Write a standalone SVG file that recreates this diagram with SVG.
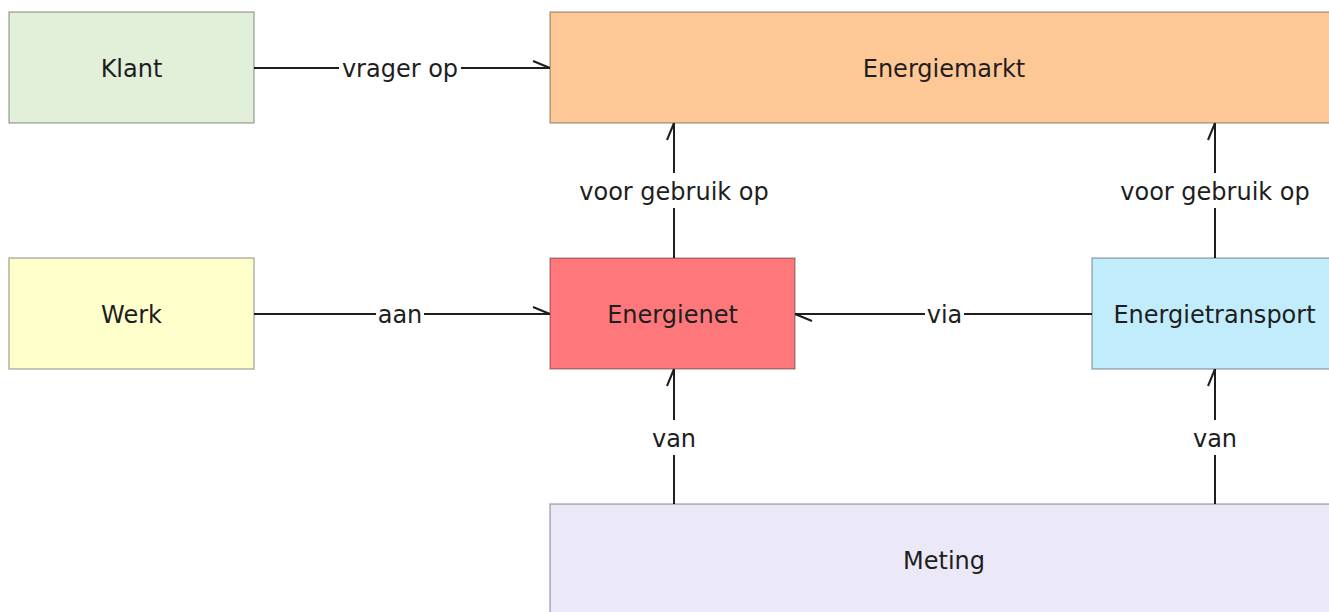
<svg xmlns="http://www.w3.org/2000/svg" width="1329" height="612" viewBox="0 0 1329 612">
<style>
.box{stroke:#000;stroke-opacity:0.3;stroke-width:1.5}
.nt{font-family:"DejaVu Sans",sans-serif;font-size:24px;fill:#1e1e1e;text-anchor:middle}
.lt{font-family:"DejaVu Sans",sans-serif;font-size:24px;fill:#1e1e1e;text-anchor:middle}
.edge{stroke:#1e1e1e;stroke-width:2;fill:none;marker-end:url(#half)}
.lbg{fill:#fff}
</style>
<defs>
<marker id="half" markerUnits="userSpaceOnUse" orient="auto" overflow="visible" markerWidth="20" markerHeight="20" refX="0" refY="0">
<path d="M-17,-7 L0,0" stroke="#1e1e1e" stroke-width="2" fill="none"/>
</marker>
</defs>
<rect width="1329" height="612" fill="#fff"/>
<g id="connectors">
<line class="edge" x1="254" y1="68" x2="550" y2="68"/>
<line class="edge" x1="674" y1="258" x2="674" y2="123"/>
<line class="edge" x1="1215" y1="258" x2="1215" y2="123"/>
<line class="edge" x1="254" y1="314" x2="550" y2="314"/>
<line class="edge" x1="1092" y1="314" x2="795" y2="314"/>
<line class="edge" x1="674" y1="504" x2="674" y2="369"/>
<line class="edge" x1="1215" y1="504" x2="1215" y2="369"/>
<rect class="lbg" x="339" y="52" width="122" height="32"/>
<text class="lt" x="400" y="77">vrager op</text>
<rect class="lbg" x="574" y="173" width="200" height="35"/>
<text class="lt" x="674" y="200">voor gebruik op</text>
<rect class="lbg" x="1115" y="173" width="200" height="35"/>
<text class="lt" x="1215" y="200">voor gebruik op</text>
<rect class="lbg" x="376" y="298" width="48" height="32"/>
<text class="lt" x="400" y="323">aan</text>
<rect class="lbg" x="925" y="298" width="39" height="32"/>
<text class="lt" x="944.5" y="323">via</text>
<rect class="lbg" x="648" y="420" width="52" height="35"/>
<text class="lt" x="674" y="447">van</text>
<rect class="lbg" x="1189" y="420" width="52" height="35"/>
<text class="lt" x="1215" y="447">van</text>
</g>
<g id="klant"><rect class="box" x="9" y="12" width="245" height="111" fill="#e2efd9"/><text class="nt" x="131.5" y="77">Klant</text></g>
<g id="energiemarkt"><rect class="box" x="550" y="12" width="788" height="111" fill="#fec896"/><text class="nt" x="944" y="77">Energiemarkt</text></g>
<g id="werk"><rect class="box" x="9" y="258" width="245" height="111" fill="#ffffcc"/><text class="nt" x="131.5" y="323">Werk</text></g>
<g id="energienet"><rect class="box" x="550" y="258" width="245" height="111" fill="#fe787b"/><text class="nt" x="672.5" y="323">Energienet</text></g>
<g id="energietransport"><rect class="box" x="1092" y="258" width="245" height="111" fill="#c0ecfc"/><text class="nt" x="1214.5" y="323">Energietransport</text></g>
<g id="meting"><rect class="box" x="550" y="504" width="788" height="111" fill="#ebe8f8"/><text class="nt" x="944" y="569">Meting</text></g>
</svg>
